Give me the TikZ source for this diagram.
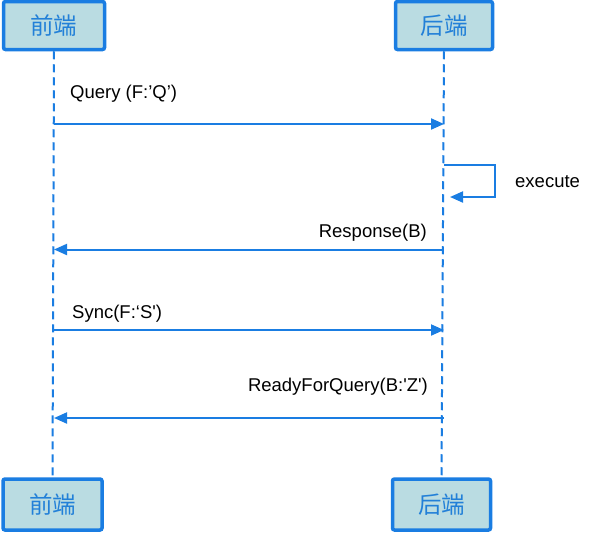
\documentclass[tikz,border=0pt]{standalone}
\usepackage{fontspec}
\setmainfont{Liberation Sans}
\newfontfamily\cjk{Noto Sans CJK SC}
\usetikzlibrary{arrows.meta,calc}
\definecolor{lineblue}{HTML}{1A7DE2}
\definecolor{boxfill}{HTML}{BADCE2}
\definecolor{textblue}{HTML}{2280D8}
\tikzset{
  actor/.style={draw=lineblue, line width=3.5pt, fill=boxfill, rounded corners=2pt,
    inner sep=0pt, text=textblue, font=\cjk\fontsize{23.5}{24}\selectfont},
  lifeline/.style={draw=lineblue, line width=2pt, dash pattern=on 8pt off 5pt},
  msg/.style={draw=lineblue, line width=2pt, -{Triangle[length=13pt,width=11pt]}},
  lbl/.style={inner sep=0pt, font=\fontsize{18.5}{22}\selectfont, text=black}
}
\begin{document}
\begin{tikzpicture}[x=1pt,y=-1pt]
\useasboundingbox (0,0) rectangle (605,533);
% actors
\node[actor, minimum width=101pt, minimum height=48pt] (A) at (54,25.5) {前端};
\node[actor, minimum width=97pt, minimum height=48pt] (B) at (444,25.5) {后端};
\node[actor, minimum width=99pt, minimum height=51pt] (A2) at (52.5,504.5) {前端};
\node[actor, minimum width=98pt, minimum height=51pt] (B2) at (441.5,504.5) {后端};
% lifelines
\draw[lifeline] (A.south) -- (A2.north);
\draw[lifeline] (B.south) -- (B2.north);
% message rows
\coordinate (m1) at (0,124);
\coordinate (m2a) at (0,165);
\coordinate (m2b) at (0,197);
\coordinate (loopx) at (495,0);
\coordinate (m3) at (0,249.5);
\coordinate (m4) at (0,330);
\coordinate (m5) at (0,418);
% Query
\draw[msg] (A.south |- m1) -- (B.south |- m1);
\node[lbl, anchor=base west] (t1) at (70,98) {Query (F:’Q’)};
% execute loop
\draw[msg] (B.south |- m2a) -- (loopx |- m2a) -- (loopx |- m2b) -- ($(B.south |- m2b)+(6,0)$);
\node[lbl, anchor=base west] (t2) at (515,187.5) {execute};
% Response
\draw[msg] (B.south |- m3) -- (A.south |- m3);
\node[lbl, anchor=base east] (t3) at (427,237.5) {Response(B)};
% Sync
\draw[msg] (A.south |- m4) -- (B.south |- m4);
\node[lbl, anchor=base west] (t4) at (72,318) {Sync(F:‘S\textquotesingle)};
% ReadyForQuery
\draw[msg] (B.south |- m5) -- (A.south |- m5);
\node[lbl, anchor=base east] (t5) at (428,391) {ReadyForQuery(B:\textquotesingle Z\textquotesingle)};
\end{tikzpicture}
\end{document}
